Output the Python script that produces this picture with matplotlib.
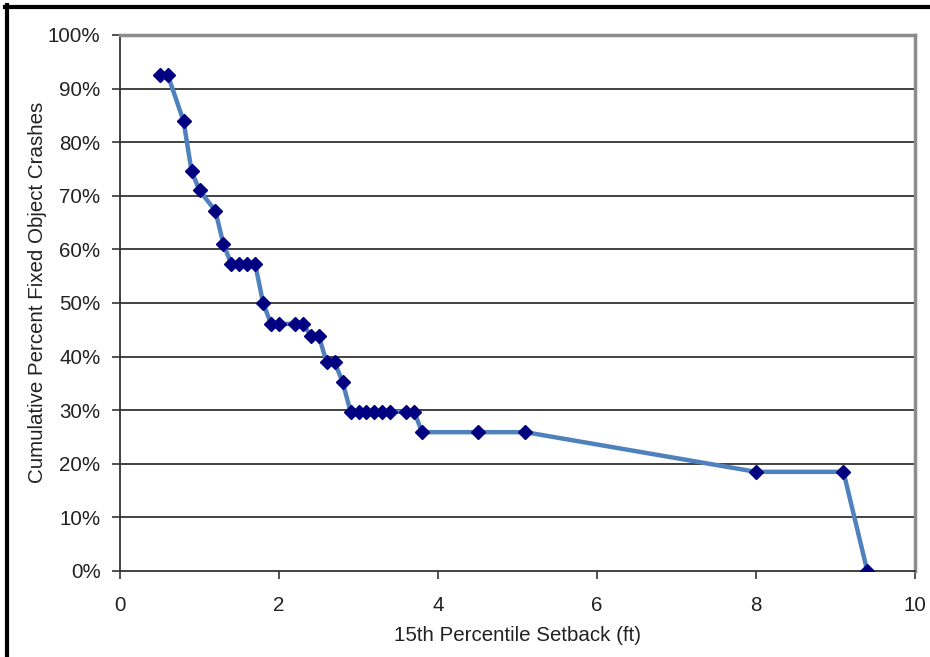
import matplotlib.pyplot as plt
from matplotlib.lines import Line2D
from matplotlib.ticker import FuncFormatter

# Setback (ft) and cumulative percent of fixed object crashes
setback = [0.5, 0.6, 0.8, 0.9, 1.0, 1.2, 1.3, 1.4, 1.5, 1.6, 1.7, 1.8,
           1.9, 2.0, 2.2, 2.3, 2.4, 2.5, 2.6, 2.7, 2.8,
           2.9, 3.0, 3.1, 3.2, 3.3, 3.4, 3.6, 3.7, 3.8, 4.5, 5.1, 8.0, 9.1, 9.4]
cum_pct = [92.6, 92.6, 83.9, 74.6, 71.0, 67.2, 61.0, 57.3, 57.3, 57.3, 57.3, 50.0,
           46.1, 46.1, 46.1, 46.1, 43.9, 43.9, 38.9, 38.9, 35.3,
           29.7, 29.7, 29.7, 29.7, 29.7, 29.7, 29.7, 29.7, 25.9, 25.9, 25.9, 18.5, 18.5, 0.0]

plt.rcParams['font.family'] = ['Liberation Sans', 'DejaVu Sans']

fig = plt.figure(figsize=(9.3, 6.57), dpi=100)
ax = fig.add_axes([120 / 930, 1 - 571 / 657, 795 / 930, 536 / 657])

# grid lines behind the data
for v in range(10, 100, 10):
    ax.axhline(v, color='#333333', lw=1.3, zorder=1)

ax.plot(setback, cum_pct, color='#4F81BD', lw=3.2, zorder=3,
        marker='D', markersize=7.5, markerfacecolor='#000080',
        markeredgecolor='#000080')

ax.set_xlim(0, 10)
ax.set_ylim(0, 100)
ax.set_xticks(range(0, 11, 2))
ax.set_yticks(range(0, 101, 10))
ax.yaxis.set_major_formatter(FuncFormatter(lambda v, p: f'{v:.0f}%'))

ax.spines['left'].set_color('#333333')
ax.spines['bottom'].set_color('#333333')
ax.spines['left'].set_linewidth(1.3)
ax.spines['bottom'].set_linewidth(1.3)
ax.spines['top'].set_color('#8c8c8c')
ax.spines['right'].set_color('#8c8c8c')
ax.spines['top'].set_linewidth(2.5)
ax.spines['right'].set_linewidth(2.5)

fs = 14.8
ax.tick_params(axis='both', direction='out', length=6, width=1.2,
               color='#333333', labelsize=fs, labelcolor='#222222')
ax.tick_params(axis='y', pad=8)
ax.tick_params(axis='x', pad=12)

ax.set_xlabel('15th Percentile Setback (ft)', fontsize=fs, color='#222222',
              labelpad=8)
ax.set_ylabel('Cumulative Percent Fixed Object Crashes', fontsize=fs,
              color='#222222')
ax.yaxis.set_label_coords(-0.092, 0.52)

# black frame on left and top of the figure
fig.add_artist(Line2D([6.5 / 930, 6.5 / 930], [0, 1 - 5 / 657],
                      transform=fig.transFigure, color='black', lw=3))
fig.add_artist(Line2D([5 / 930, 1], [1 - 6.5 / 657, 1 - 6.5 / 657],
                      transform=fig.transFigure, color='black', lw=3))

fig.savefig('out.png', dpi=100)
